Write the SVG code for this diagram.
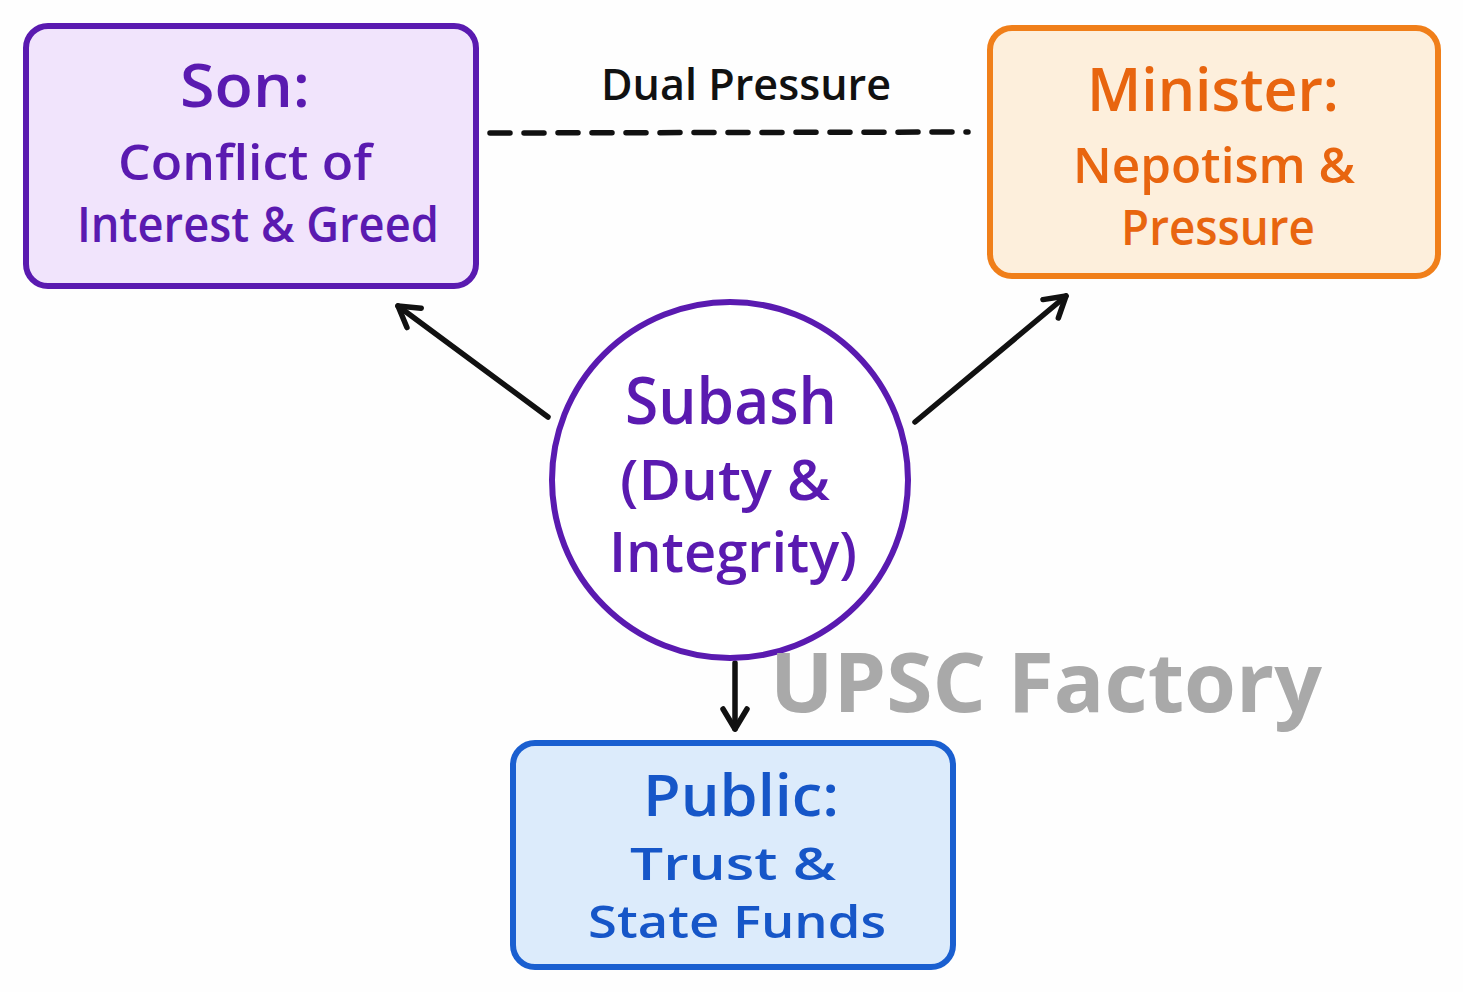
<svg xmlns="http://www.w3.org/2000/svg" width="1463" height="992" viewBox="0 0 1463 992">
<defs>
<marker id="ah" viewBox="0 0 30 30" refX="24" refY="15" markerWidth="30" markerHeight="30" markerUnits="userSpaceOnUse" orient="auto">
<path d="M4,3 L24,15 L4,27" fill="none" stroke="#111" stroke-width="5.5" stroke-linecap="round" stroke-linejoin="round"/>
</marker>
<style>
.t{font-family:"Open Sans","Noto Sans",sans-serif;text-anchor:middle;font-weight:600}
.son{fill:#5a1ab0}
.min{fill:#e8650f}
.pub{fill:#1656c8}
.con{stroke:#111;stroke-width:5.5;fill:none;stroke-linecap:round}
</style>
</defs>
<rect width="1463" height="992" fill="#fefefe"/>
<g id="connectors">
<line class="con" x1="490" y1="133" x2="968" y2="132" stroke-dasharray="20 14" stroke-linecap="butt"/>
<text class="t" x="746" y="100" font-size="44" fill="#111" textLength="290" lengthAdjust="spacingAndGlyphs">Dual Pressure</text>
<line class="con" x1="548" y1="417" x2="398" y2="306" marker-end="url(#ah)"/>
<line class="con" x1="915" y1="422" x2="1066" y2="296" marker-end="url(#ah)"/>
<line class="con" x1="735" y1="663" x2="735" y2="729" marker-end="url(#ah)"/>
</g>
<g id="son">
<rect x="26" y="26" width="450" height="260" rx="22" fill="#f1e4fc" stroke="#5a1ab0" stroke-width="6"/>
<text class="t son" x="245" y="107" font-size="60" textLength="130" lengthAdjust="spacingAndGlyphs">Son:</text>
<text class="t son" x="245" y="180" font-size="49" textLength="254" lengthAdjust="spacingAndGlyphs">Conflict of</text>
<text class="t son" x="258" y="242" font-size="49" textLength="362" lengthAdjust="spacingAndGlyphs">Interest &amp; Greed</text>
</g>
<g id="minister">
<rect x="990" y="28" width="448" height="248" rx="22" fill="#fdefdc" stroke="#f07f1a" stroke-width="6"/>
<text class="t min" x="1213" y="111" font-size="60" textLength="252" lengthAdjust="spacingAndGlyphs">Minister:</text>
<text class="t min" x="1214" y="183" font-size="49" textLength="282" lengthAdjust="spacingAndGlyphs">Nepotism &amp;</text>
<text class="t min" x="1218" y="245" font-size="49" textLength="194" lengthAdjust="spacingAndGlyphs">Pressure</text>
</g>
<g id="subash">
<circle cx="730" cy="480" r="178" fill="#ffffff" stroke="#5a1ab0" stroke-width="6"/>
<text class="t son" x="731" y="424" font-size="66" textLength="212" lengthAdjust="spacingAndGlyphs">Subash</text>
<text class="t son" x="725" y="500" font-size="56" textLength="210" lengthAdjust="spacingAndGlyphs">(Duty &amp;</text>
<text class="t son" x="733" y="572" font-size="56" textLength="248" lengthAdjust="spacingAndGlyphs">Integrity)</text>
</g>
<text x="770" y="712" font-family="'Open Sans','Noto Sans',sans-serif" font-weight="bold" font-size="82" fill="#a9a9a9" textLength="552" lengthAdjust="spacingAndGlyphs">UPSC Factory</text>
<g id="public">
<rect x="513" y="743" width="440" height="224" rx="22" fill="#dcebfb" stroke="#1a5fd0" stroke-width="6"/>
<text class="t pub" x="741" y="816" font-size="58" textLength="196" lengthAdjust="spacingAndGlyphs">Public:</text>
<text class="t pub" x="733" y="880" font-size="45" textLength="206" lengthAdjust="spacingAndGlyphs">Trust &amp;</text>
<text class="t pub" x="737" y="938" font-size="45" textLength="298" lengthAdjust="spacingAndGlyphs">State Funds</text>
</g>
</svg>
